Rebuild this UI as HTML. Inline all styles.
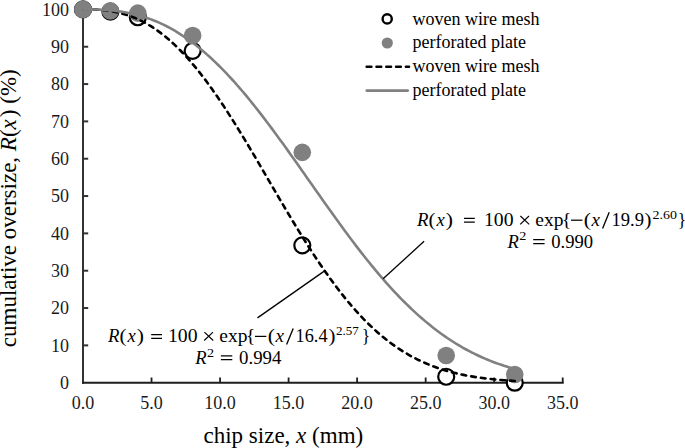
<!DOCTYPE html>
<html><head><meta charset="utf-8"><style>
html,body{margin:0;padding:0;background:#fff;}
svg{display:block;}
text{font-family:"Liberation Serif",serif;fill:#000;}
.tk{font-size:18px;fill:#1a1a1a;}
.lg{font-size:18px;}
.ttl{font-size:23px;}
.eq{font-size:18px;}
</style></head><body>
<svg width="685" height="448" viewBox="0 0 685 448">
<line x1="83.0" y1="8.90" x2="83.0" y2="383.8" stroke="#333333" stroke-width="2"/>
<line x1="82.0" y1="382.8" x2="563.71" y2="382.8" stroke="#1e1e1e" stroke-width="2"/>
<text x="69" y="389.00" text-anchor="end" class="tk">0</text>
<line x1="83.0" y1="345.37" x2="88.20" y2="345.37" stroke="#333333" stroke-width="2"/>
<text x="69" y="351.67" text-anchor="end" class="tk">10</text>
<line x1="83.0" y1="308.04" x2="88.20" y2="308.04" stroke="#333333" stroke-width="2"/>
<text x="69" y="314.34" text-anchor="end" class="tk">20</text>
<line x1="83.0" y1="270.71" x2="88.20" y2="270.71" stroke="#333333" stroke-width="2"/>
<text x="69" y="277.01" text-anchor="end" class="tk">30</text>
<line x1="83.0" y1="233.38" x2="88.20" y2="233.38" stroke="#333333" stroke-width="2"/>
<text x="69" y="239.68" text-anchor="end" class="tk">40</text>
<line x1="83.0" y1="196.05" x2="88.20" y2="196.05" stroke="#333333" stroke-width="2"/>
<text x="69" y="202.35" text-anchor="end" class="tk">50</text>
<line x1="83.0" y1="158.72" x2="88.20" y2="158.72" stroke="#333333" stroke-width="2"/>
<text x="69" y="165.02" text-anchor="end" class="tk">60</text>
<line x1="83.0" y1="121.39" x2="88.20" y2="121.39" stroke="#333333" stroke-width="2"/>
<text x="69" y="127.69" text-anchor="end" class="tk">70</text>
<line x1="83.0" y1="84.06" x2="88.20" y2="84.06" stroke="#333333" stroke-width="2"/>
<text x="69" y="90.36" text-anchor="end" class="tk">80</text>
<line x1="83.0" y1="46.73" x2="88.20" y2="46.73" stroke="#333333" stroke-width="2"/>
<text x="69" y="53.03" text-anchor="end" class="tk">90</text>
<line x1="83.0" y1="9.40" x2="88.20" y2="9.40" stroke="#333333" stroke-width="2"/>
<text x="69" y="15.70" text-anchor="end" class="tk">100</text>
<text x="83.00" y="408.5" text-anchor="middle" class="tk">0.0</text>
<line x1="151.53" y1="382.8" x2="151.53" y2="377.5" stroke="#1e1e1e" stroke-width="1.8"/>
<text x="151.53" y="408.5" text-anchor="middle" class="tk">5.0</text>
<line x1="220.06" y1="382.8" x2="220.06" y2="377.5" stroke="#1e1e1e" stroke-width="1.8"/>
<text x="220.06" y="408.5" text-anchor="middle" class="tk">10.0</text>
<line x1="288.59" y1="382.8" x2="288.59" y2="377.5" stroke="#1e1e1e" stroke-width="1.8"/>
<text x="288.59" y="408.5" text-anchor="middle" class="tk">15.0</text>
<line x1="357.12" y1="382.8" x2="357.12" y2="377.5" stroke="#1e1e1e" stroke-width="1.8"/>
<text x="357.12" y="408.5" text-anchor="middle" class="tk">20.0</text>
<line x1="425.65" y1="382.8" x2="425.65" y2="377.5" stroke="#1e1e1e" stroke-width="1.8"/>
<text x="425.65" y="408.5" text-anchor="middle" class="tk">25.0</text>
<line x1="494.18" y1="382.8" x2="494.18" y2="377.5" stroke="#1e1e1e" stroke-width="1.8"/>
<text x="494.18" y="408.5" text-anchor="middle" class="tk">30.0</text>
<line x1="562.71" y1="382.8" x2="562.71" y2="377.5" stroke="#1e1e1e" stroke-width="1.8"/>
<text x="562.71" y="408.5" text-anchor="middle" class="tk">35.0</text>
<circle cx="83.00" cy="9.40" r="8" fill="#fff" stroke="#000" stroke-width="2.2"/>
<circle cx="110.41" cy="11.64" r="8" fill="#fff" stroke="#000" stroke-width="2.2"/>
<circle cx="137.82" cy="17.24" r="8" fill="#fff" stroke="#000" stroke-width="2.2"/>
<circle cx="192.65" cy="50.84" r="8" fill="#fff" stroke="#000" stroke-width="2.2"/>
<circle cx="302.30" cy="245.33" r="8" fill="#fff" stroke="#000" stroke-width="2.2"/>
<circle cx="446.21" cy="376.73" r="8" fill="#fff" stroke="#000" stroke-width="2.2"/>
<circle cx="514.74" cy="382.70" r="8" fill="#fff" stroke="#000" stroke-width="2.2"/>
<circle cx="83.00" cy="9.40" r="8.8" fill="#808080"/>
<circle cx="110.41" cy="10.89" r="8.8" fill="#808080"/>
<circle cx="137.82" cy="13.13" r="8.8" fill="#808080"/>
<circle cx="192.65" cy="35.53" r="8.8" fill="#808080"/>
<circle cx="302.30" cy="152.37" r="8.8" fill="#808080"/>
<circle cx="446.21" cy="355.45" r="8.8" fill="#808080"/>
<circle cx="514.74" cy="374.49" r="8.8" fill="#808080"/>
<path d="M83.00,9.40 L85.70,9.40 L88.40,9.43 L91.10,9.47 L93.79,9.55 L96.49,9.67 L99.19,9.83 L101.89,10.04 L104.59,10.30 L107.29,10.62 L109.98,11.00 L112.68,11.45 L115.38,11.96 L118.08,12.54 L120.78,13.20 L123.48,13.93 L126.17,14.74 L128.87,15.63 L131.57,16.61 L134.27,17.67 L136.97,18.82 L139.67,20.06 L142.36,21.39 L145.06,22.82 L147.76,24.34 L150.46,25.95 L153.16,27.66 L155.86,29.47 L158.55,31.38 L161.25,33.39 L163.95,35.49 L166.65,37.70 L169.35,40.00 L172.05,42.41 L174.74,44.91 L177.44,47.51 L180.14,50.21 L182.84,53.01 L185.54,55.90 L188.24,58.89 L190.93,61.97 L193.63,65.14 L196.33,68.41 L199.03,71.76 L201.73,75.20 L204.43,78.72 L207.12,82.33 L209.82,86.02 L212.52,89.78 L215.22,93.63 L217.92,97.54 L220.62,101.52 L223.32,105.57 L226.01,109.68 L228.71,113.85 L231.41,118.08 L234.11,122.36 L236.81,126.69 L239.51,131.06 L242.20,135.48 L244.90,139.94 L247.60,144.43 L250.30,148.95 L253.00,153.50 L255.70,158.07 L258.39,162.66 L261.09,167.27 L263.79,171.88 L266.49,176.51 L269.19,181.13 L271.89,185.76 L274.58,190.38 L277.28,194.99 L279.98,199.59 L282.68,204.17 L285.38,208.74 L288.08,213.28 L290.77,217.79 L293.47,222.27 L296.17,226.71 L298.87,231.12 L301.57,235.49 L304.27,239.81 L306.96,244.09 L309.66,248.32 L312.36,252.49 L315.06,256.61 L317.76,260.67 L320.46,264.67 L323.15,268.61 L325.85,272.48 L328.55,276.29 L331.25,280.02 L333.95,283.69 L336.65,287.28 L339.35,290.81 L342.04,294.25 L344.74,297.63 L347.44,300.92 L350.14,304.14 L352.84,307.28 L355.54,310.34 L358.23,313.32 L360.93,316.22 L363.63,319.04 L366.33,321.79 L369.03,324.45 L371.73,327.03 L374.42,329.54 L377.12,331.96 L379.82,334.31 L382.52,336.58 L385.22,338.78 L387.92,340.90 L390.61,342.94 L393.31,344.91 L396.01,346.81 L398.71,348.64 L401.41,350.39 L404.11,352.08 L406.80,353.70 L409.50,355.26 L412.20,356.75 L414.90,358.17 L417.60,359.54 L420.30,360.84 L422.99,362.09 L425.69,363.28 L428.39,364.41 L431.09,365.49 L433.79,366.52 L436.49,367.50 L439.18,368.43 L441.88,369.32 L444.58,370.15 L447.28,370.95 L449.98,371.70 L452.68,372.41 L455.37,373.09 L458.07,373.73 L460.77,374.33 L463.47,374.89 L466.17,375.43 L468.87,375.93 L471.57,376.40 L474.26,376.85 L476.96,377.27 L479.66,377.66 L482.36,378.03 L485.06,378.37 L487.76,378.69 L490.45,378.99 L493.15,379.27 L495.85,379.54 L498.55,379.78 L501.25,380.01 L503.95,380.22 L506.64,380.42 L509.34,380.60 L512.04,380.77 L514.74,380.93" fill="none" stroke="#000" stroke-width="2.6" stroke-dasharray="4.7 5.105" stroke-dashoffset="-0.5" stroke-linecap="round" stroke-linejoin="round"/>
<circle cx="83.00" cy="9.40" r="8.8" fill="#808080" fill-opacity="0.85"/>
<path d="M83.00,9.40 L85.70,9.40 L88.40,9.41 L91.10,9.44 L93.79,9.48 L96.49,9.55 L99.19,9.64 L101.89,9.76 L104.59,9.91 L107.29,10.09 L109.98,10.31 L112.68,10.57 L115.38,10.86 L118.08,11.20 L120.78,11.58 L123.48,12.01 L126.17,12.48 L128.87,13.01 L131.57,13.58 L134.27,14.21 L136.97,14.89 L139.67,15.62 L142.36,16.42 L145.06,17.27 L147.76,18.18 L150.46,19.15 L153.16,20.18 L155.86,21.27 L158.55,22.43 L161.25,23.65 L163.95,24.93 L166.65,26.28 L169.35,27.70 L172.05,29.18 L174.74,30.73 L177.44,32.35 L180.14,34.04 L182.84,35.79 L185.54,37.61 L188.24,39.50 L190.93,41.46 L193.63,43.48 L196.33,45.58 L199.03,47.74 L201.73,49.97 L204.43,52.26 L207.12,54.62 L209.82,57.05 L212.52,59.54 L215.22,62.10 L217.92,64.72 L220.62,67.40 L223.32,70.15 L226.01,72.96 L228.71,75.82 L231.41,78.75 L234.11,81.73 L236.81,84.76 L239.51,87.86 L242.20,91.00 L244.90,94.20 L247.60,97.44 L250.30,100.74 L253.00,104.08 L255.70,107.46 L258.39,110.89 L261.09,114.36 L263.79,117.87 L266.49,121.42 L269.19,125.00 L271.89,128.61 L274.58,132.26 L277.28,135.93 L279.98,139.64 L282.68,143.36 L285.38,147.11 L288.08,150.88 L290.77,154.67 L293.47,158.47 L296.17,162.29 L298.87,166.11 L301.57,169.95 L304.27,173.79 L306.96,177.64 L309.66,181.49 L312.36,185.34 L315.06,189.18 L317.76,193.02 L320.46,196.86 L323.15,200.68 L325.85,204.50 L328.55,208.29 L331.25,212.08 L333.95,215.84 L336.65,219.59 L339.35,223.31 L342.04,227.01 L344.74,230.69 L347.44,234.34 L350.14,237.95 L352.84,241.54 L355.54,245.09 L358.23,248.61 L360.93,252.09 L363.63,255.53 L366.33,258.94 L369.03,262.30 L371.73,265.62 L374.42,268.90 L377.12,272.13 L379.82,275.31 L382.52,278.45 L385.22,281.54 L387.92,284.58 L390.61,287.58 L393.31,290.52 L396.01,293.40 L398.71,296.24 L401.41,299.03 L404.11,301.76 L406.80,304.43 L409.50,307.05 L412.20,309.62 L414.90,312.13 L417.60,314.59 L420.30,316.99 L422.99,319.34 L425.69,321.63 L428.39,323.87 L431.09,326.05 L433.79,328.17 L436.49,330.24 L439.18,332.26 L441.88,334.22 L444.58,336.13 L447.28,337.98 L449.98,339.78 L452.68,341.53 L455.37,343.23 L458.07,344.87 L460.77,346.47 L463.47,348.01 L466.17,349.51 L468.87,350.95 L471.57,352.35 L474.26,353.70 L476.96,355.01 L479.66,356.27 L482.36,357.49 L485.06,358.66 L487.76,359.79 L490.45,360.88 L493.15,361.92 L495.85,362.93 L498.55,363.90 L501.25,364.83 L503.95,365.72 L506.64,366.58 L509.34,367.40 L512.04,368.19 L514.74,368.94" fill="none" stroke="#808080" stroke-width="2.6" stroke-linejoin="round"/>
<line x1="424.1" y1="241.3" x2="383.1" y2="278.8" stroke="#000" stroke-width="1.3"/>
<line x1="257.5" y1="317.9" x2="323.9" y2="271.4" stroke="#000" stroke-width="1.3"/>
<circle cx="387.2" cy="18.9" r="4.6" fill="#fff" stroke="#000" stroke-width="2.4"/>
<circle cx="387.3" cy="43" r="5.6" fill="#808080"/>
<line x1="366.7" y1="66.8" x2="409" y2="66.8" stroke="#000" stroke-width="2.6" stroke-dasharray="4.7 5.105" stroke-linecap="round"/>
<line x1="366.7" y1="90.6" x2="407.8" y2="90.6" stroke="#808080" stroke-width="2.6" stroke-linecap="round"/>
<text x="412.5" y="24.5" class="lg">woven wire mesh</text>
<text x="412.5" y="47.9" class="lg">perforated plate</text>
<text x="412.5" y="71.6" class="lg">woven wire mesh</text>
<text x="412.5" y="96.2" class="lg">perforated plate</text>
<text x="203.5" y="442.6" class="ttl">chip size, <tspan font-style="italic">x</tspan> (mm)</text>
<text transform="translate(16,347.2) rotate(-90)" class="ttl">cumulative oversize, <tspan font-style="italic">R</tspan>(<tspan font-style="italic">x</tspan><tspan dx="2">)</tspan> (%)</text>
<text transform="translate(417.10,226.00) scale(1.042,1)" font-size="18" font-style="italic">R</text>
<text transform="translate(428.43,226.00) scale(1.158,1)" font-size="18">(</text>
<text transform="translate(436.56,226.00) scale(1.030,1)" font-size="18" font-style="italic">x</text>
<text transform="translate(445.70,226.00) scale(1.200,1)" font-size="18">)</text>
<path d="M464.00,218.30H474.80M464.00,222.20H474.80" stroke="#000" stroke-width="1.25" fill="none"/>
<text transform="translate(483.96,226.00) scale(1.096,1)" font-size="18">100</text>
<path d="M520.40,216.00L529.20,224.30M529.00,216.00L520.20,224.30" stroke="#000" stroke-width="1.15" fill="none"/>
<text transform="translate(535.26,226.00) scale(1.083,1)" font-size="18">exp</text>
<text transform="translate(561.64,226.00) scale(1.109,1)" font-size="18">{</text>
<path d="M571.00,220.20H582.40" stroke="#000" stroke-width="1.25" fill="none"/>
<text transform="translate(583.80,226.00) scale(1.200,1)" font-size="18">(</text>
<text transform="translate(591.56,226.00) scale(1.055,1)" font-size="18" font-style="italic">x</text>
<path d="M602.60,228.40L609.20,212.20" stroke="#000" stroke-width="1.35" fill="none"/>
<text transform="translate(611.55,226.00) scale(1.032,1)" font-size="18">19.9</text>
<text transform="translate(644.62,226.00) scale(1.158,1)" font-size="18">)</text>
<text transform="translate(652.56,218.80) scale(1.076,1)" font-size="13">2.60</text>
<text transform="translate(677.73,226.00) scale(0.982,1)" font-size="18">}</text>
<text transform="translate(507.50,247.70) scale(1.033,1)" font-size="18" font-style="italic">R</text>
<text transform="translate(519.35,240.40) scale(1.091,1)" font-size="13">2</text>
<path d="M533.20,239.70H544.60M533.20,243.50H544.60" stroke="#000" stroke-width="1.25" fill="none"/>
<text transform="translate(551.28,247.70) scale(1.035,1)" font-size="18">0.990</text>
<text transform="translate(108.10,342.20) scale(1.042,1)" font-size="18" font-style="italic">R</text>
<text transform="translate(119.43,342.20) scale(1.158,1)" font-size="18">(</text>
<text transform="translate(127.56,342.20) scale(1.030,1)" font-size="18" font-style="italic">x</text>
<text transform="translate(136.70,342.20) scale(1.200,1)" font-size="18">)</text>
<path d="M151.20,334.50H162.00M151.20,338.40H162.00" stroke="#000" stroke-width="1.25" fill="none"/>
<text transform="translate(167.96,342.20) scale(1.096,1)" font-size="18">100</text>
<path d="M204.40,332.20L213.20,340.50M213.00,332.20L204.20,340.50" stroke="#000" stroke-width="1.15" fill="none"/>
<text transform="translate(219.26,342.20) scale(1.083,1)" font-size="18">exp</text>
<text transform="translate(245.64,342.20) scale(1.109,1)" font-size="18">{</text>
<path d="M255.00,336.40H266.40" stroke="#000" stroke-width="1.25" fill="none"/>
<text transform="translate(267.80,342.20) scale(1.200,1)" font-size="18">(</text>
<text transform="translate(275.56,342.20) scale(1.055,1)" font-size="18" font-style="italic">x</text>
<path d="M286.60,344.60L293.20,328.40" stroke="#000" stroke-width="1.35" fill="none"/>
<text transform="translate(295.58,342.20) scale(1.015,1)" font-size="18">16.4</text>
<text transform="translate(328.62,342.20) scale(1.158,1)" font-size="18">)</text>
<text x="335.90" y="335.00" font-size="13">2.57</text>
<text transform="translate(361.73,342.20) scale(0.982,1)" font-size="18">}</text>
<text transform="translate(195.20,363.90) scale(1.033,1)" font-size="18" font-style="italic">R</text>
<text transform="translate(207.05,356.60) scale(1.091,1)" font-size="13">2</text>
<path d="M220.90,355.90H232.30M220.90,359.70H232.30" stroke="#000" stroke-width="1.25" fill="none"/>
<text transform="translate(239.08,363.90) scale(1.047,1)" font-size="18">0.994</text>
</svg>
</body></html>
